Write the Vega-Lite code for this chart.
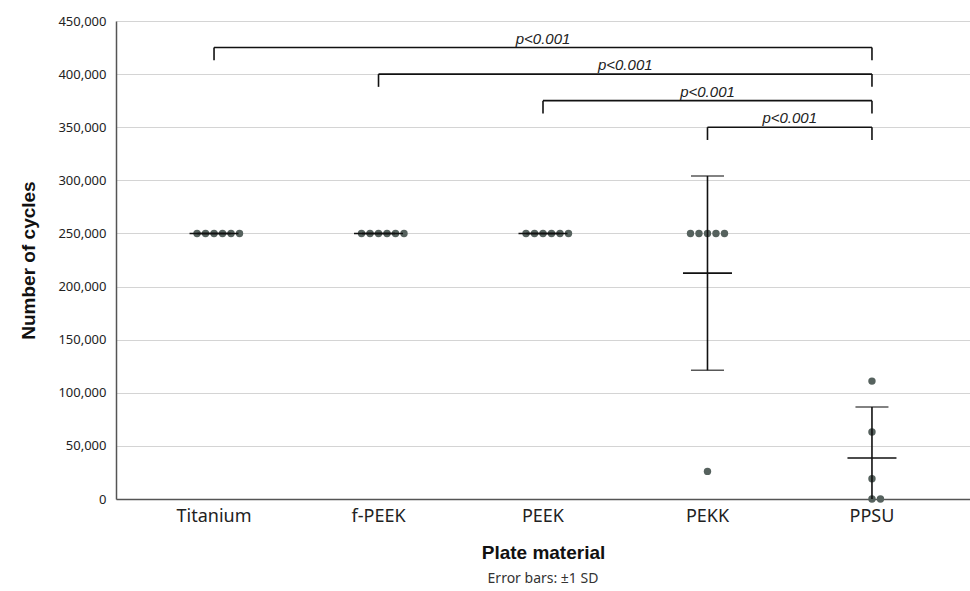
{
  "$schema": "https://vega.github.io/schema/vega-lite/v6.json",
  "autosize": "none",
  "width": 854,
  "height": 478,
  "padding": {"left": 116, "top": 21, "right": 0, "bottom": 92},
  "background": "white",
  "title": {
    "text": "Error bars: ±1 SD",
    "orient": "bottom",
    "anchor": "middle",
    "font": "Noto Sans",
    "fontSize": 14,
    "fontWeight": "normal",
    "color": "#333333",
    "offset": 10
  },
  "config": {
    "view": {"stroke": null},
    "numberFormat": ",",
    "axis": {"labelFont": "Noto Sans", "titleFont": "Liberation Sans", "titleFontWeight": "bold", "titleColor": "#111111", "labelColor": "#222222"}
  },
  "datasets": {
    "obs": [
      {"material": "Titanium", "cycles": 250000, "slot": -2},
      {"material": "Titanium", "cycles": 250000, "slot": -1},
      {"material": "Titanium", "cycles": 250000, "slot": 0},
      {"material": "Titanium", "cycles": 250000, "slot": 1},
      {"material": "Titanium", "cycles": 250000, "slot": 2},
      {"material": "Titanium", "cycles": 250000, "slot": 3},
      {"material": "f-PEEK", "cycles": 250000, "slot": -2},
      {"material": "f-PEEK", "cycles": 250000, "slot": -1},
      {"material": "f-PEEK", "cycles": 250000, "slot": 0},
      {"material": "f-PEEK", "cycles": 250000, "slot": 1},
      {"material": "f-PEEK", "cycles": 250000, "slot": 2},
      {"material": "f-PEEK", "cycles": 250000, "slot": 3},
      {"material": "PEEK", "cycles": 250000, "slot": -2},
      {"material": "PEEK", "cycles": 250000, "slot": -1},
      {"material": "PEEK", "cycles": 250000, "slot": 0},
      {"material": "PEEK", "cycles": 250000, "slot": 1},
      {"material": "PEEK", "cycles": 250000, "slot": 2},
      {"material": "PEEK", "cycles": 250000, "slot": 3},
      {"material": "PEKK", "cycles": 250000, "slot": -2},
      {"material": "PEKK", "cycles": 250000, "slot": -1},
      {"material": "PEKK", "cycles": 250000, "slot": 0},
      {"material": "PEKK", "cycles": 250000, "slot": 1},
      {"material": "PEKK", "cycles": 250000, "slot": 2},
      {"material": "PEKK", "cycles": 26000, "slot": 0},
      {"material": "PPSU", "cycles": 111000, "slot": 0},
      {"material": "PPSU", "cycles": 63000, "slot": 0},
      {"material": "PPSU", "cycles": 19000, "slot": 0},
      {"material": "PPSU", "cycles": 0, "slot": 0},
      {"material": "PPSU", "cycles": 0, "slot": 1}
    ],
    "brackets": [
      {"from": "Titanium", "to": "PPSU", "level": 425000, "leg": 413000, "mid": "PEEK", "half": 0, "label": "p<0.001"},
      {"from": "f-PEEK", "to": "PPSU", "level": 400000, "leg": 388000, "mid": "PEEK", "half": 9.68, "label": "p<0.001"},
      {"from": "PEEK", "to": "PPSU", "level": 375000, "leg": 363000, "mid": "PEKK", "half": 0, "label": "p<0.001"},
      {"from": "PEKK", "to": "PPSU", "level": 350000, "leg": 338000, "mid": "PEKK", "half": 9.68, "label": "p<0.001"}
    ]
  },
  "encoding": {
    "x": {
      "field": "material",
      "type": "nominal",
      "sort": ["Titanium", "f-PEEK", "PEEK", "PEKK", "PPSU"],
      "scale": {"domain": ["Titanium", "f-PEEK", "PEEK", "PEKK", "PPSU"], "paddingInner": 0, "paddingOuter": 0.096},
      "axis": {"title": "Plate material", "titleFontSize": 19, "titlePadding": 18, "labelFontSize": 18, "labelPadding": 8, "ticks": false, "domainColor": "#555555", "domainWidth": 1.5, "labelAngle": 0, "grid": false}
    }
  },
  "layer": [
    {
      "data": {"name": "obs"},
      "mark": {"type": "circle", "size": 55, "color": "#56625e", "opacity": 1},
      "encoding": {
        "xOffset": {"field": "slot", "type": "quantitative", "scale": {"domain": [-9.68, 9.68]}},
        "y": {
          "field": "cycles",
          "type": "quantitative",
          "scale": {"domain": [0, 450000], "nice": false},
          "axis": {"title": "Number of cycles", "titleFontSize": 19, "titlePadding": 19, "labelFontSize": 13, "labelPadding": 10, "ticks": false, "values": [0, 50000, 100000, 150000, 200000, 250000, 300000, 350000, 400000, 450000], "format": ",", "labelExpr": "format(datum.value, ',')", "gridColor": "#d4d4d4", "gridWidth": 1.2, "domainColor": "#555555", "domainWidth": 1.5}
        }
      }
    },
    {
      "data": {"name": "obs"},
      "mark": {"type": "errorbar", "extent": "stdev", "clip": true, "color": "#111111", "ticks": {"size": 33, "thickness": 1.6}, "rule": {"strokeWidth": 1.6}},
      "encoding": {
        "y": {
          "field": "cycles",
          "type": "quantitative",
          "scale": {"domain": [0, 450000], "nice": false},
          "axis": {"title": "Number of cycles", "titleFontSize": 19, "titlePadding": 19, "labelFontSize": 13, "labelPadding": 10, "ticks": false, "values": [0, 50000, 100000, 150000, 200000, 250000, 300000, 350000, 400000, 450000], "format": ",", "labelExpr": "format(datum.value, ',')", "gridColor": "#d4d4d4", "gridWidth": 1.2, "domainColor": "#555555", "domainWidth": 1.5}
        }
      }
    },
    {
      "data": {"name": "obs"},
      "mark": {"type": "tick", "orient": "horizontal", "size": 49, "thickness": 1.6, "color": "#111111", "opacity": 1},
      "encoding": {
        "y": {"field": "cycles", "type": "quantitative", "aggregate": "mean", "title": "Number of cycles"}
      }
    },
    {
      "data": {"name": "brackets"},
      "mark": {"type": "rule", "color": "#111111", "strokeWidth": 1.6},
      "encoding": {
        "x": {"field": "from", "type": "nominal", "bandPosition": 0.5},
        "x2": {"field": "to", "bandPosition": 0.5},
        "y": {"field": "level", "type": "quantitative", "title": "Number of cycles"}
      }
    },
    {
      "data": {"name": "brackets"},
      "mark": {"type": "rule", "color": "#111111", "strokeWidth": 1.6},
      "encoding": {
        "x": {"field": "from", "type": "nominal", "bandPosition": 0.5},
        "y": {"field": "level", "type": "quantitative", "title": "Number of cycles"},
        "y2": {"field": "leg"}
      }
    },
    {
      "data": {"name": "brackets"},
      "mark": {"type": "rule", "color": "#111111", "strokeWidth": 1.6},
      "encoding": {
        "x": {"field": "to", "type": "nominal", "bandPosition": 0.5},
        "y": {"field": "level", "type": "quantitative", "title": "Number of cycles"},
        "y2": {"field": "leg"}
      }
    },
    {
      "data": {"name": "brackets"},
      "mark": {"type": "text", "font": "Liberation Sans", "fontStyle": "italic", "fontSize": 15, "color": "#222222", "baseline": "alphabetic", "dy": -4},
      "encoding": {
        "x": {"field": "mid", "type": "nominal"},
        "xOffset": {"field": "half", "type": "quantitative", "scale": {"domain": [-9.68, 9.68]}},
        "y": {"field": "level", "type": "quantitative", "title": "Number of cycles"},
        "text": {"field": "label"}
      }
    }
  ]
}
